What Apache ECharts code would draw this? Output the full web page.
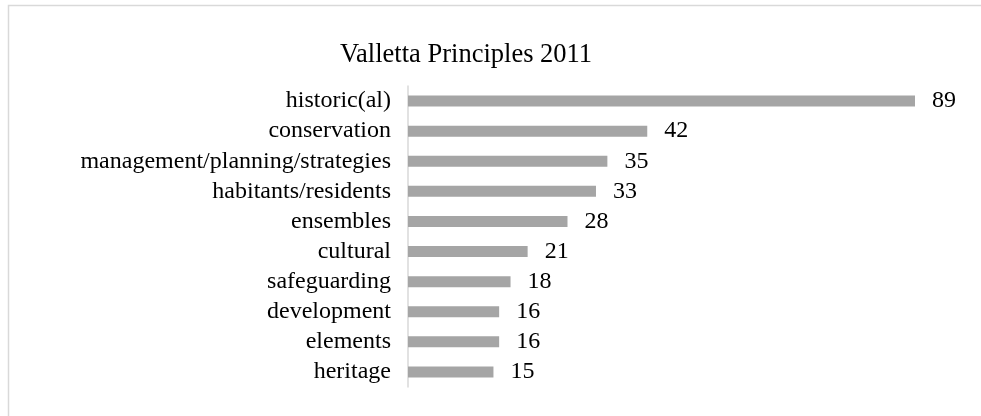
<!DOCTYPE html>
<html>
<head>
<meta charset="utf-8">
<script src="https://cdn.jsdelivr.net/npm/echarts@6/dist/echarts.min.js"></script>
<style>
html,body{margin:0;padding:0;background:#fff;}
#chart{width:981px;height:416px;}
</style>
</head>
<body>
<div id="chart"></div>
<script>
var titleText = 'Valletta Principles 2011';
var categories = ['historic(al)','conservation','management/planning/strategies','habitants/residents','ensembles','cultural','safeguarding','development','elements','heritage'];
var values = [89,42,35,33,28,21,18,16,16,15];

var FONT = "'Liberation Serif','Times New Roman',serif";
var chart = echarts.init(document.getElementById('chart'));
chart.setOption({
  animation: false,
  backgroundColor: '#ffffff',
  graphic: [{
    type: 'rect',
    shape: {x: 8.5, y: 5.5, width: 990, height: 430},
    style: {fill: 'none', stroke: '#d9d9d9', lineWidth: 1.5},
    silent: true
  }],
  title: {
    text: titleText,
    left: 461, top: 37, textAlign: 'center',
    textStyle: {fontFamily: FONT, fontSize: 26.5, fontWeight: 'normal', color: '#000'}
  },
  grid: {left: 408, right: 66, top: 86, bottom: 29, containLabel: false},
  xAxis: {
    type: 'value', min: 0, max: 89,
    show: false
  },
  yAxis: {
    type: 'category', data: categories, inverse: true,
    axisLine: {show: true, lineStyle: {color: '#d9d9d9', width: 1.5}},
    axisTick: {show: false},
    splitLine: {show: false},
    axisLabel: {interval: 0, fontFamily: FONT, fontSize: 24, color: '#000', margin: 17}
  },
  series: [{
    type: 'bar', data: values, barWidth: 11,
    itemStyle: {color: '#a5a5a5'},
    label: {show: true, position: 'right', distance: 17, fontFamily: FONT, fontSize: 24, color: '#000'}
  }]
});
</script>
</body>
</html>
